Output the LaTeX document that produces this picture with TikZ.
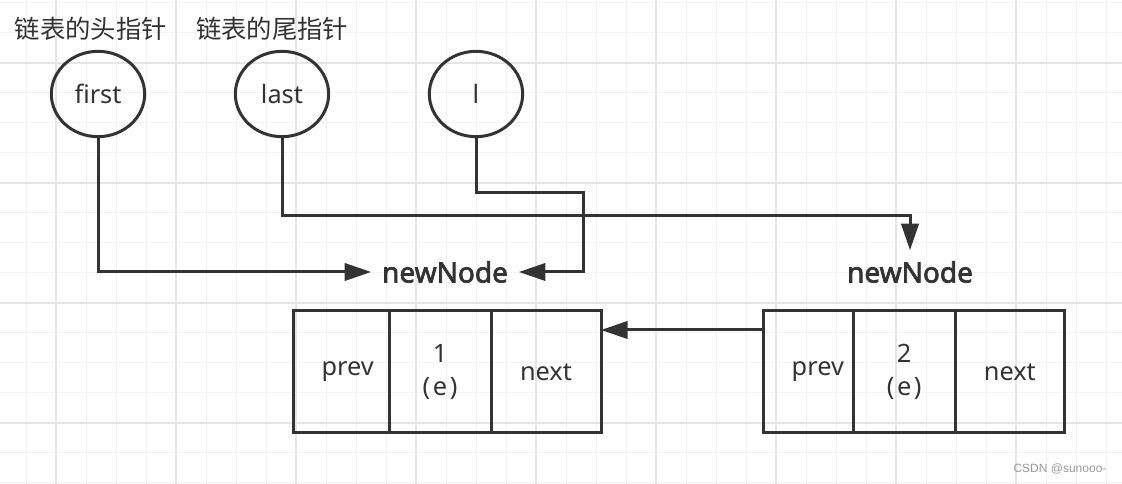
\documentclass[tikz,border=0pt]{standalone}
\usepackage{fontspec}
\setmainfont{Noto Sans}[AutoFakeBold=2.5]
\newfontfamily\cjk{Noto Sans CJK SC}
\newfontfamily\markfont{Liberation Sans}
\usetikzlibrary{shapes.geometric, arrows.meta, positioning}
\definecolor{ink}{HTML}{333333}
\definecolor{gridminor}{HTML}{F2F2F2}
\definecolor{gridmajor}{HTML}{E5E5E5}
\definecolor{wm}{HTML}{9A9A9A}
\tikzset{
  ptr/.style={ellipse, draw=ink, line width=2.25pt, minimum width=70pt, minimum height=64pt, inner sep=0pt, text=ink},
  cell/.style={rectangle, draw=ink, line width=2.25pt, minimum height=91.5pt, inner sep=0pt, outer sep=0pt, text=ink, align=center},
  tag/.style={text=ink, font=\bfseries\fontsize{21}{25}\selectfont, inner sep=8pt},
  link/.style={draw=ink, line width=2.25pt, -{Triangle[length=20pt,width=13pt]}},
}
\begin{document}
\begin{tikzpicture}[x=0.75pt, y=-0.75pt, font=\fontsize{19}{25}\selectfont]
    \useasboundingbox (0,0) rectangle (1122,484);
    % background grid
    \fill[white] (0,0) rectangle (1122,484);
    \foreach \x in {26,56,...,1116} \draw[gridminor, line width=0.75pt] (\x,0) -- (\x,484);
    \foreach \y in {3,33,...,483} \draw[gridminor, line width=0.75pt] (0,\y) -- (1122,\y);
    \foreach \x in {56,176,...,1016} \draw[gridmajor, line width=1pt] (\x,0) -- (\x,484);
    \foreach \y in {63,183,...,423} \draw[gridmajor, line width=1pt] (0,\y) -- (1122,\y);

    \node[text=ink, font=\cjk\fontsize{19}{25}\selectfont] (headlbl) at (91,29) {链表的头指针};
    \node[text=ink, font=\cjk\fontsize{19}{25}\selectfont] (taillbl) at (272,29) {链表的尾指针};

    \node[ptr] (first) at (98,94) {first};
    \node[ptr] (last) at (282,94) {last};
    \node[ptr] (l) at (476,94) {l};

    \node[tag] (nn1) at (445,272) {newNode};
    \node[tag] (nn2) at (910,272) {newNode};

    % first node
    \node[cell, minimum width=72pt] (b1prev) at (341,372) {\hspace{10pt}prev};
    \node[cell, minimum width=76.5pt, right=0pt of b1prev] (b1data) {1\\(\kern2pt e\kern2pt)};
    \node[cell, minimum width=82.5pt, right=0pt of b1data] (b1next) {next};
    % second node
    \node[cell, minimum width=67pt] (b2prev) at (808.5,372) {\hspace{14pt}prev};
    \node[cell, minimum width=76.5pt, right=0pt of b2prev] (b2data) {2\\(\kern2pt e\kern2pt)};
    \node[cell, minimum width=82pt, right=0pt of b2data] (b2next) {next};

    \coordinate (lbend) at (583,193);
    \coordinate (lastbend) at (910,216);
    \draw[link] (first.south) |- (nn1.west);
    \draw[link] (last.south) |- (lastbend) -- (nn2.north);
    \draw[link] (l.south) |- (lbend) |- (nn1.east);
    \draw[link] ([yshift=31.5pt]b2prev.west) -- ([yshift=31.5pt]b1next.east);

    \node[text=wm, font=\markfont\fontsize{9}{11}\selectfont] (mark) at (1060,469) {CSDN @sunooo-};
\end{tikzpicture}
\end{document}
